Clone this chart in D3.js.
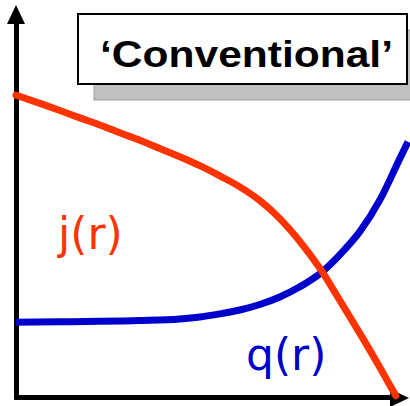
<!DOCTYPE html>
<html>
<head>
<meta charset="utf-8">
<script src="https://cdn.jsdelivr.net/npm/d3@7"></script>
<style>
  html, body { margin: 0; padding: 0; background: #fff; }
  svg { display: block; }
</style>
</head>
<body>
<svg id="chart" width="410" height="406"></svg>
<script>
/* ---------- data (arbitrary units, 0..100) ---------- */
const jR = [0, 6.1, 11.2, 16.3, 21.4, 26.5, 31.6, 36.7, 41.8, 46.9, 52.0, 57.1, 62.2, 67.3, 72.4, 77.6, 82.7, 87.8, 92.9, 96.9];
const jVal = [77.0, 74.9, 73.1, 71.2, 69.4, 67.4, 65.5, 63.4, 61.3, 59.0, 56.4, 53.6, 50.1, 45.5, 39.7, 32.7, 24.5, 16.1, 7.4, 0.3];
const qR = [0, 11.2, 21.4, 31.6, 41.8, 46.9, 52.0, 57.1, 62.2, 67.3, 72.4, 77.6, 82.7, 87.8, 92.9, 98.0, 100];
const qVal = [19.1, 19.2, 19.3, 19.5, 19.9, 20.4, 21.2, 22.2, 23.6, 25.5, 28.1, 31.5, 36.4, 42.3, 50.4, 61.0, 65.1];
const title = "\u2018Conventional\u2019";
const labels = ["j(r)", "q(r)"];

const red = "#ff3300";
const blue = "#0000cc";

/* ---------- scales ---------- */
const svg = d3.select("#chart");
const x = d3.scaleLinear().domain([0, 100]).range([16, 408]);
const y = d3.scaleLinear().domain([0, 100]).range([397, 5]);

/* ---------- title box ---------- */
svg.append("rect")
  .attr("x", 94).attr("y", 30).attr("width", 330).attr("height", 70)
  .attr("fill", "#c0c0c0").attr("stroke", "#9a9a9a").attr("stroke-width", 1);
svg.append("rect")
  .attr("x", 78).attr("y", 14).attr("width", 329).attr("height", 70)
  .attr("fill", "#fff").attr("stroke", "#000").attr("stroke-width", 2);
svg.append("text")
  .attr("x", 100).attr("y", 67)
  .attr("textLength", 293).attr("lengthAdjust", "spacingAndGlyphs")
  .style("font-family", "'Liberation Sans', Arial, sans-serif")
  .style("font-weight", "bold")
  .style("font-size", "37px")
  .text(title);

/* ---------- axes (no ticks) ---------- */
svg.append("g")
  .attr("transform", `translate(0,${y(0)})`)
  .call(d3.axisBottom(x.copy().range([14, 392])).tickValues([]).tickSizeOuter(0));
svg.append("g")
  .attr("transform", `translate(${x(0)},0)`)
  .call(d3.axisLeft(y.copy().range([399, 22])).tickValues([]).tickSizeOuter(0));
svg.selectAll(".domain").attr("stroke", "#000").attr("stroke-width", 5);

// arrow heads
svg.append("path")
  .attr("d", `M${x(0)},5 L${x(0) - 9},24 L${x(0) + 9},24 Z`)
  .attr("fill", "#000");
svg.append("path")
  .attr("d", `M409,${y(0) + 1} L390,${y(0) - 8} L390,${y(0) + 10} Z`)
  .attr("fill", "#000");

/* ---------- curves ---------- */
const line = d3.line()
  .x((d) => x(d[0]))
  .y((d) => y(d[1]))
  .curve(d3.curveMonotoneX);

svg.append("path")
  .datum(qR.map((r, i) => [r, qVal[i]]))
  .attr("d", line)
  .attr("fill", "none")
  .attr("stroke", blue)
  .attr("stroke-width", 7);

svg.append("path")
  .datum(jR.map((r, i) => [r, jVal[i]]))
  .attr("d", line)
  .attr("fill", "none")
  .attr("stroke", red)
  .attr("stroke-width", 7)
  .attr("stroke-linecap", "round");

/* ---------- labels ---------- */
svg.append("text")
  .attr("x", 58).attr("y", 249)
  .attr("fill", red)
  .style("font-family", "'DejaVu Sans', sans-serif")
  .style("font-size", "44px")
  .text(labels[0]);
svg.append("text")
  .attr("x", 246).attr("y", 370)
  .attr("fill", blue)
  .style("font-family", "'DejaVu Sans', sans-serif")
  .style("font-size", "44px")
  .text(labels[1]);
</script>
</body>
</html>
